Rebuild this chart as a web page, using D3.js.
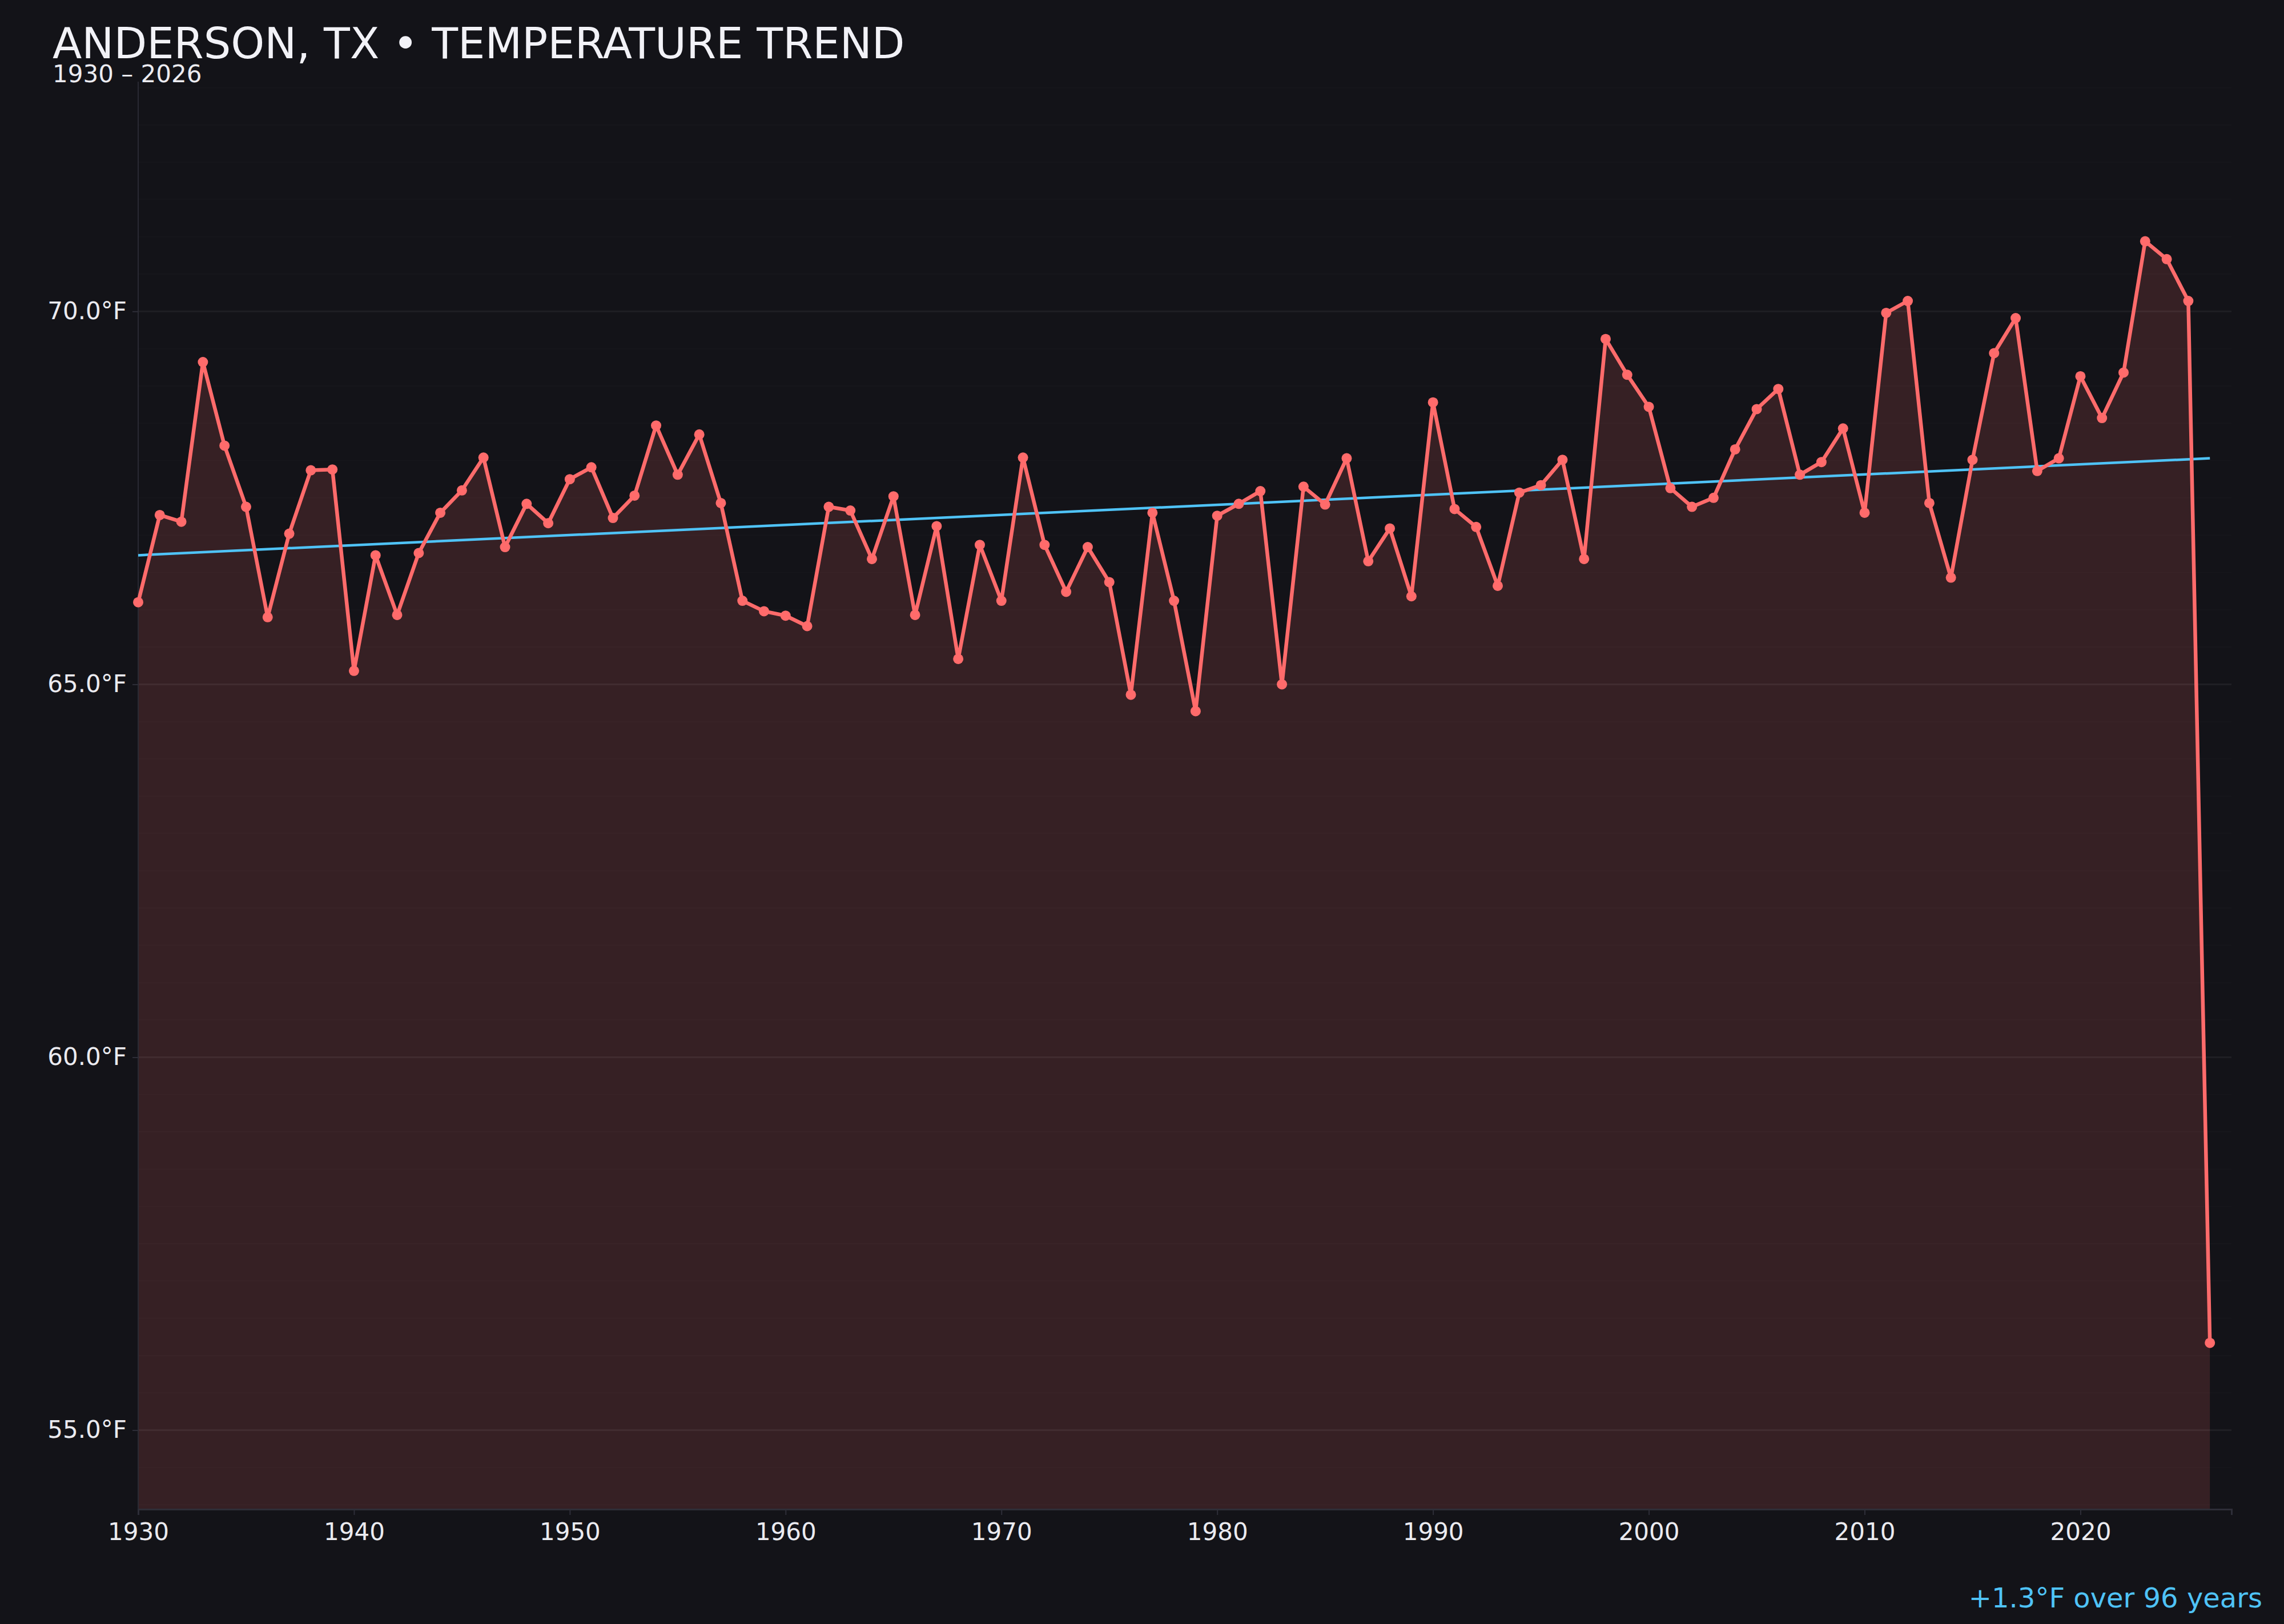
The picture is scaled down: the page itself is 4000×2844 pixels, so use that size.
<!DOCTYPE html>
<html>
<head>
<meta charset="utf-8">
<title>Anderson, TX temperature trend</title>
<script src="https://cdn.jsdelivr.net/npm/d3@7"></script>
<style>
  html, body { margin: 0; padding: 0; background: #131318; }
  svg { display: block; font-family: "DejaVu Sans", sans-serif; }
  .axis text { fill: #ebebf0; font-size: 42px; }
</style>
</head>
<body>
<svg class="chart-wrapper"></svg>
<script>
'use strict';

var titleText = 'ANDERSON, TX \u2022 TEMPERATURE TREND';
var subtitleText = '1930 \u2013 2026';

var firstYear = 1930;
// annual mean temperature, °F
var temps = [
  66.10, 67.27, 67.18, 69.32, 68.20, 67.38, 65.90, 67.02, 67.87, 67.88,
  65.18, 66.73, 65.93, 66.76, 67.30, 67.60, 68.04, 66.84, 67.42, 67.16,
  67.75, 67.91, 67.23, 67.53, 68.47, 67.81, 68.35, 67.43, 66.12, 65.98,
  65.92, 65.78, 67.38, 67.33, 66.68, 67.52, 65.93, 67.12, 65.34, 66.87,
  66.12, 68.04, 66.87, 66.24, 66.84, 66.37, 64.86, 67.30, 66.12, 64.64,
  67.26, 67.42, 67.59, 65.00, 67.65, 67.41, 68.03, 66.65, 67.09, 66.18,
  68.78, 67.35, 67.11, 66.32, 67.57, 67.67, 68.01, 66.68, 69.63, 69.15,
  68.72, 67.63, 67.38, 67.50, 68.15, 68.69, 68.96, 67.81, 67.98, 68.43,
  67.30, 69.98, 70.14, 67.43, 66.43, 68.01, 69.44, 69.91, 67.86, 68.03,
  69.13, 68.57, 69.18, 70.94, 70.70, 70.14, 56.17
];

// linear trend end points
var trendYears = [1930, 2026];
var trendValues = [66.73, 68.03];

var xTicks = [1930, 1940, 1950, 1960, 1970, 1980, 1990, 2000, 2010, 2020];
var yTicks = [55, 60, 65, 70];

var W = 4000;
var H = 2844;
var margin = { top: 143, right: 92, left: 242, bottom: 201 };
var width = W - margin.left - margin.right;
var height = H - margin.top - margin.bottom;

var data = temps.map(function (t, i) {
  return { year: firstYear + i, temp: t };
});
var trend = trendYears.map(function (y, i) {
  return { year: y, temp: trendValues[i] };
});

var xScale = d3.scaleLinear()
    .domain([1930, 2027])
    .range([0, width]);

var yScale = d3.scaleLinear()
    .domain([53.94, 73.08])
    .range([height, 0]);

var svg = d3.select('.chart-wrapper')
    .attr('width', W)
    .attr('height', H);

svg.append('rect')
    .attr('width', W)
    .attr('height', H)
    .attr('fill', '#131318');

var chart = svg.append('g')
    .attr('transform', 'translate(' + margin.left + ', ' + margin.top + ')');

// Area under the series
chart.append('path')
    .datum(data)
    .attr('fill', '#ff6b6b')
    .attr('fill-opacity', 0.15)
    .attr('d', d3.area()
      .x(function (d) { return xScale(d.year); })
      .y0(height)
      .y1(function (d) { return yScale(d.temp); })
    );

// Grid every half degree
var gridValues = d3.range(54, 73.01, 0.5);
chart.append('g')
    .attr('class', 'grid')
  .selectAll('line')
    .data(gridValues)
  .enter().append('line')
    .attr('x1', 0)
    .attr('x2', width)
    .attr('y1', function (d) { return yScale(d); })
    .attr('y2', function (d) { return yScale(d); })
    .attr('stroke', '#ffffff')
    .attr('stroke-opacity', function (d) { return d % 5 === 0 ? 0.055 : 0.014; })
    .attr('stroke-width', function (d) { return d % 5 === 0 ? 3 : 2; });

// Axes
var xAxis = d3.axisBottom(xScale)
    .tickValues(xTicks)
    .tickSize(10)
    .tickPadding(14)
    .tickFormat(d3.format('d'));

var yAxis = d3.axisLeft(yScale)
    .tickValues(yTicks)
    .tickSize(10)
    .tickPadding(10)
    .tickFormat(function (d) { return d3.format('.1f')(d) + '\u00b0F'; });

var gx = chart.append('g')
    .attr('class', 'x axis')
    .attr('transform', 'translate(0, ' + height + ')')
    .call(xAxis);
gx.select('.domain')
    .attr('stroke', '#2e2e38')
    .attr('stroke-width', 3);
gx.selectAll('.tick line')
    .attr('stroke', '#2e2e38')
    .attr('stroke-width', 2);
gx.selectAll('.tick text')
    .attr('dy', '0.71em');

var gy = chart.append('g')
    .attr('class', 'y axis')
    .call(yAxis);
gy.select('.domain')
    .attr('d', 'M0,0V' + height)
    .attr('stroke', '#2a2a33')
    .attr('stroke-width', 2);
gy.selectAll('.tick line')
    .attr('stroke', '#2e2e38')
    .attr('stroke-width', 2);
svg.selectAll('.axis').attr('font-size', null).attr('font-family', null);

// Trend line
chart.append('path')
    .datum(trend)
    .attr('fill', 'none')
    .attr('stroke', '#4fc3f7')
    .attr('stroke-width', 4.5)
    .attr('d', d3.line()
      .x(function (d) { return xScale(d.year); })
      .y(function (d) { return yScale(d.temp); })
    );

// Series line and points
chart.append('path')
    .datum(data)
    .attr('fill', 'none')
    .attr('stroke', '#ff6b6b')
    .attr('stroke-width', 6.5)
    .attr('stroke-linejoin', 'round')
    .attr('d', d3.line()
      .x(function (d) { return xScale(d.year); })
      .y(function (d) { return yScale(d.temp); })
    );

chart.append('g')
  .selectAll('circle')
    .data(data)
  .enter().append('circle')
    .attr('cx', function (d) { return xScale(d.year); })
    .attr('cy', function (d) { return yScale(d.temp); })
    .attr('r', 9)
    .attr('fill', '#ff6b6b');

// Titles
svg.append('text')
    .attr('x', 92)
    .attr('y', 102)
    .attr('fill', '#f2f2f7')
    .attr('font-size', 75)
    .text(titleText);

svg.append('text')
    .attr('x', 92)
    .attr('y', 144)
    .attr('fill', '#ebebf0')
    .attr('font-size', 42)
    .text(subtitleText);

var change = trendValues[1] - trendValues[0];
svg.append('text')
    .attr('x', 3962)
    .attr('y', 2815)
    .attr('text-anchor', 'end')
    .attr('fill', '#4fc3f7')
    .attr('font-size', 48)
    .text((change >= 0 ? '+' : '') + change.toFixed(1) + '\u00b0F over ' +
      (trendYears[1] - trendYears[0]) + ' years');
</script>
</body>
</html>
